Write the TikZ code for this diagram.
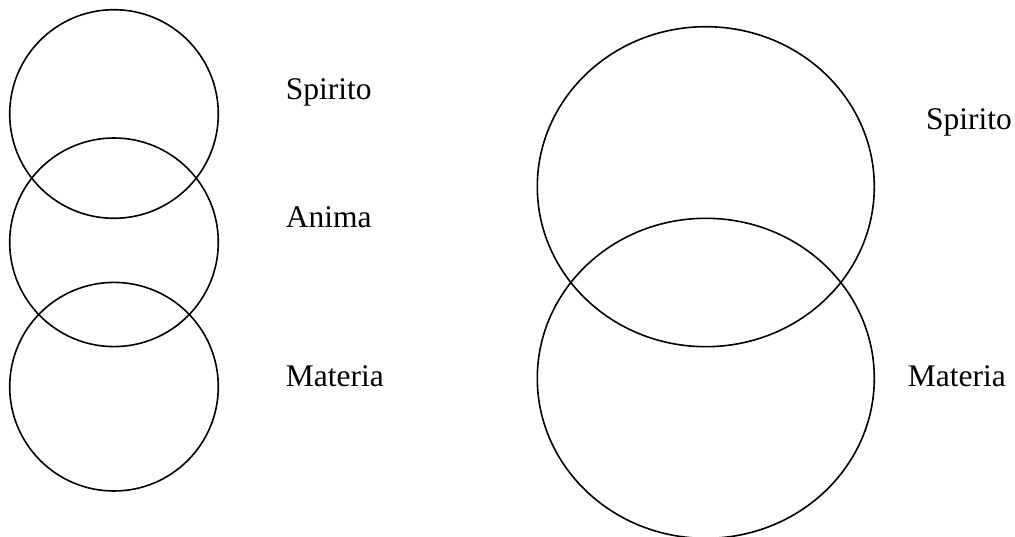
\documentclass[tikz,border=0pt]{standalone}
\usepackage{fontspec}
\setmainfont{Liberation Serif}
\begin{document}
\begin{tikzpicture}[x=1pt,y=-1pt,
  ring/.style={draw=black,line width=1.6pt},
  lbl/.style={anchor=base west,inner sep=0pt,font=\fontsize{31.5}{36}\selectfont}]
\useasboundingbox (0,0) rectangle (1015,537);
\begin{scope}
\clip (0,0) rectangle (1015,537);
% left column
\draw[ring] (114,114) circle[radius=104.3];
\draw[ring] (114,242.3) circle[radius=104.3];
\draw[ring] (114,386.7) circle[radius=104.3];
% right column
\draw[ring] (705.8,186.7) ellipse[x radius=168.5,y radius=160];
\draw[ring] (705.8,378.3) ellipse[x radius=168.5,y radius=160];
\end{scope}
\node[lbl] (s1) at (285.7,99.3) {Spirito};
\node[lbl] (a1) at (285.7,227.7) {Anima};
\node[lbl] (m1) at (285.7,386.7) {Materia};
\node[lbl] (s2) at (926,130) {Spirito};
\node[lbl] (m2) at (907.7,386.7) {Materia};
\end{tikzpicture}
\end{document}
